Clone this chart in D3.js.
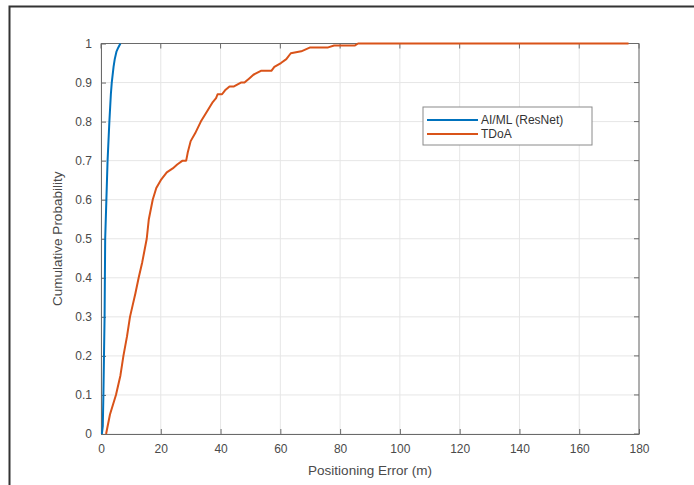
<!DOCTYPE html>
<html>
<head>
<meta charset="utf-8">
<script src="https://cdn.jsdelivr.net/npm/d3@7"></script>
<style>
body { margin:0; background:#fff; }
svg { display:block; font-family:"Liberation Sans", Arial, sans-serif; }
</style>
</head>
<body>
<script>
// AI/ML (ResNet) CDF points
const aiX = [0.3, 0.6, 0.8, 1.0, 1.2, 1.3, 1.4, 1.8, 2.2, 2.8, 3.3, 3.6, 4.2, 4.6, 5.2, 5.8, 6.5];
const aiY = [0, 0.02, 0.1, 0.2, 0.3, 0.4, 0.5, 0.6, 0.7, 0.8, 0.87, 0.9, 0.94, 0.96, 0.98, 0.99, 1];

// TDoA CDF points
const tdX = [1.7, 3, 5, 6.5, 7.5, 8.7, 9.7, 10.6, 11.5, 12.6,
  13.8, 15.3, 16, 17.3, 18.5, 20, 22, 24, 25.5, 27.3,
  28.5, 29, 30, 31.5, 33.4, 35, 37.4, 38.5, 39, 40.5,
  41.5, 43, 44.5, 46.8, 48, 49.5, 51, 53.5, 57, 58,
  60.2, 62, 63.5, 67, 70, 76, 78, 85, 86, 176.5];
const tdY = [0, 0.05, 0.1, 0.15, 0.2, 0.25, 0.3, 0.33, 0.36, 0.4,
  0.44, 0.5, 0.55, 0.6, 0.63, 0.65, 0.67, 0.68, 0.69, 0.7,
  0.7, 0.72, 0.75, 0.77, 0.8, 0.82, 0.85, 0.86, 0.87, 0.87,
  0.88, 0.89, 0.89, 0.9, 0.9, 0.91, 0.92, 0.93, 0.93, 0.94,
  0.95, 0.96, 0.975, 0.98, 0.99, 0.99, 0.995, 0.995, 1, 1];

const seriesNames = ["AI/ML (ResNet)", "TDoA"];
const xTicks = [0, 20, 40, 60, 80, 100, 120, 140, 160, 180];
const yTicks = [0, 0.1, 0.2, 0.3, 0.4, 0.5, 0.6, 0.7, 0.8, 0.9, 1];

const width = 694, height = 485;
const plot = {left:101, right:639, top:43.5, bottom:434};
const colors = ["#0072BD", "#D95319"];

const svg = d3.select("body").append("svg")
  .attr("width", width).attr("height", height);

// outer frame (left and top edges visible)
svg.append("path")
  .attr("d", "M9.5," + height + "V6.5H" + width)
  .attr("fill", "none").attr("stroke", "#333").attr("stroke-width", 2);

const x = d3.scaleLinear().domain([0, 180]).range([plot.left, plot.right]);
const y = d3.scaleLinear().domain([0, 1]).range([plot.bottom, plot.top]);

// grid
svg.append("g").selectAll("line").data(xTicks).enter().append("line")
  .attr("x1", d => x(d)).attr("x2", d => x(d))
  .attr("y1", plot.top).attr("y2", plot.bottom)
  .attr("stroke", "#e6e6e6");
svg.append("g").selectAll("line").data(yTicks).enter().append("line")
  .attr("x1", plot.left).attr("x2", plot.right)
  .attr("y1", d => y(d)).attr("y2", d => y(d))
  .attr("stroke", "#e6e6e6");

// axes
const xAxis = d3.axisBottom(x).tickValues(xTicks).tickSizeInner(-5).tickSizeOuter(0).tickPadding(8);
const yAxis = d3.axisLeft(y).tickValues(yTicks).tickSizeInner(-5).tickSizeOuter(0).tickPadding(9)
  .tickFormat(d3.format("~g"));

const gx = svg.append("g").attr("transform", "translate(0," + plot.bottom + ")").call(xAxis);
const gy = svg.append("g").attr("transform", "translate(" + plot.left + ",0)").call(yAxis);
[gx, gy].forEach(g => {
  g.select(".domain").attr("stroke", "#6a6a6a");
  g.selectAll(".tick line").attr("stroke", "#6a6a6a");
  g.selectAll("text").attr("fill", "#4a4a4a").attr("font-size", "12px");
});
gx.selectAll("text").attr("dy", "0.9em");

// top and right box edges with ticks
svg.append("line").attr("x1", plot.left).attr("x2", plot.right)
  .attr("y1", plot.top).attr("y2", plot.top).attr("stroke", "#6a6a6a");
svg.append("line").attr("x1", plot.right).attr("x2", plot.right)
  .attr("y1", plot.top).attr("y2", plot.bottom).attr("stroke", "#6a6a6a");
svg.append("g").selectAll("line").data(xTicks).enter().append("line")
  .attr("x1", d => x(d)).attr("x2", d => x(d))
  .attr("y1", plot.top).attr("y2", plot.top + 5).attr("stroke", "#6a6a6a");
svg.append("g").selectAll("line").data(yTicks).enter().append("line")
  .attr("x1", plot.right).attr("x2", plot.right - 5)
  .attr("y1", d => y(d)).attr("y2", d => y(d)).attr("stroke", "#6a6a6a");

// axis titles
svg.append("text")
  .attr("x", (plot.left + plot.right) / 2).attr("y", 475)
  .attr("text-anchor", "middle").attr("font-size", "13.5px").attr("fill", "#4a4a4a")
  .text("Positioning Error (m)");
svg.append("text")
  .attr("transform", "rotate(-90)")
  .attr("x", -(plot.top + plot.bottom) / 2).attr("y", 62)
  .attr("text-anchor", "middle").attr("font-size", "13.5px").attr("fill", "#4a4a4a")
  .text("Cumulative Probability");

// curves
const line = d3.line().x(d => x(d[0])).y(d => y(d[1]));
const series = [d3.zip(aiX, aiY), d3.zip(tdX, tdY)];
svg.append("g").selectAll("path").data(series).enter().append("path")
  .attr("d", line)
  .attr("fill", "none")
  .attr("stroke", (d, i) => colors[i])
  .attr("stroke-width", 2)
  .attr("stroke-linejoin", "round");

// legend
const legend = svg.append("g").attr("transform", "translate(423,107)");
legend.append("rect")
  .attr("width", 169).attr("height", 38)
  .attr("fill", "#fff").attr("stroke", "#8a8a8a");
legend.selectAll("line").data(seriesNames).enter().append("line")
  .attr("x1", 4).attr("x2", 55)
  .attr("y1", (d, i) => 13 + i * 14).attr("y2", (d, i) => 13 + i * 14)
  .attr("stroke", (d, i) => colors[i]).attr("stroke-width", 2);
legend.selectAll("text").data(seriesNames).enter().append("text")
  .attr("x", 58).attr("y", (d, i) => 13 + i * 14).attr("dy", "0.35em")
  .attr("font-size", "12px").attr("fill", "#333")
  .text(d => d);
</script>
</body>
</html>
